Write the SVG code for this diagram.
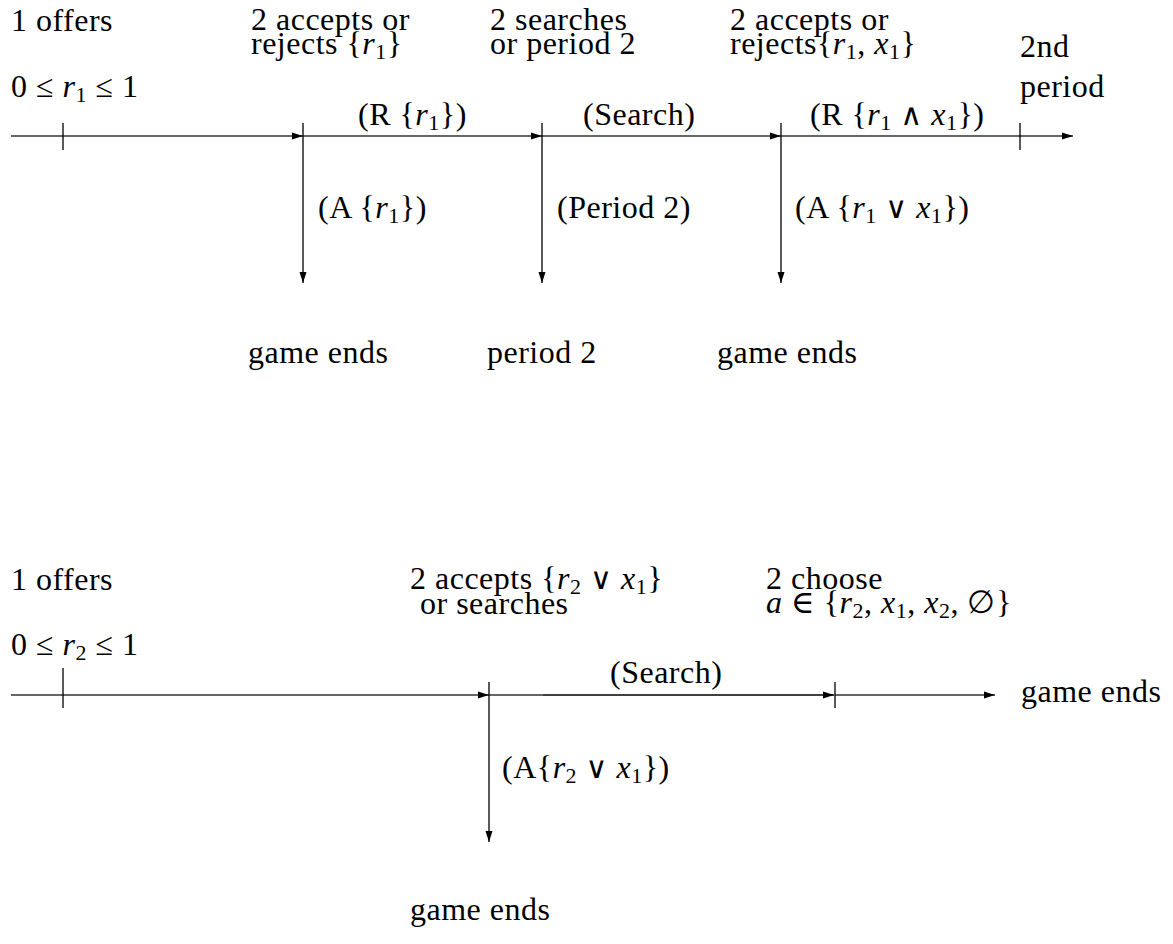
<svg xmlns="http://www.w3.org/2000/svg" width="1173" height="944" viewBox="0 0 1173 944">
<style>
text{font-family:"Liberation Serif","DejaVu Serif",serif;font-size:32px;letter-spacing:0.5px;fill:#000}
.i{font-style:italic}
.s{font-size:22px}
.op{font-family:"DejaVu Serif",serif;font-size:30px}
.ln{stroke:#333;stroke-width:1.3;fill:none}
.tk{stroke:#000;stroke-width:1.3}
</style>
<defs>
<marker id="ah" markerUnits="userSpaceOnUse" markerWidth="12" markerHeight="8" refX="11" refY="4" orient="auto">
<path d="M0,0.5 L11,4 L0,7.5 Z" fill="#000"/>
</marker>
</defs>
<rect width="1173" height="944" fill="#fff"/>
<g id="connectors">
<line class="ln" x1="11" y1="136" x2="303" y2="136" marker-end="url(#ah)"/>
<line class="ln" x1="303" y1="136" x2="542" y2="136" marker-end="url(#ah)"/>
<line class="ln" x1="542" y1="136" x2="781" y2="136" marker-end="url(#ah)"/>
<line class="ln" x1="781" y1="136" x2="1073" y2="136" marker-end="url(#ah)"/>
<line class="tk" x1="63" y1="123" x2="63" y2="150"/>
<line class="tk" x1="1020" y1="123" x2="1020" y2="150"/>
<line class="tk" x1="303" y1="123" x2="303" y2="283" marker-end="url(#ah)"/>
<line class="tk" x1="542" y1="123" x2="542" y2="283" marker-end="url(#ah)"/>
<line class="tk" x1="781" y1="123" x2="781" y2="283" marker-end="url(#ah)"/>
<line class="ln" x1="11" y1="695" x2="489" y2="695" marker-end="url(#ah)"/>
<line class="ln" x1="489" y1="695" x2="543" y2="695"/>
<line class="tk" x1="543" y1="695" x2="834" y2="695" marker-end="url(#ah)"/>
<line class="ln" x1="835" y1="695" x2="995" y2="695" marker-end="url(#ah)"/>
<line class="tk" x1="63" y1="668" x2="63" y2="708"/>
<line class="tk" x1="835" y1="682" x2="835" y2="708"/>
<line class="tk" x1="489" y1="682" x2="489" y2="842" marker-end="url(#ah)"/>
</g>
<g id="n-offers1"><text x="11" y="31">1 offers</text><text x="11" y="97">0 ≤ <tspan class="i">r</tspan><tspan class="s" dy="5">1</tspan><tspan dy="-5"> ≤ 1</tspan></text></g>
<g id="n-accept1"><text x="251" y="30">2 accepts or</text><text x="251" y="54">rejects {<tspan class="i">r</tspan><tspan class="s" dy="5">1</tspan><tspan dy="-5">}</tspan></text></g>
<g id="n-search1"><text x="490" y="30">2 searches</text><text x="490" y="54">or period 2</text></g>
<g id="n-accept2"><text x="730" y="30">2 accepts or</text><text x="730" y="54">rejects{<tspan class="i">r</tspan><tspan class="s" dy="5">1</tspan><tspan dy="-5">, </tspan><tspan class="i">x</tspan><tspan class="s" dy="5">1</tspan><tspan dy="-5">}</tspan></text></g>
<g id="n-2nd"><text x="1020" y="57">2nd</text><text x="1020" y="97">period</text></g>
<g id="l-R1"><text x="358" y="125">(R {<tspan class="i">r</tspan><tspan class="s" dy="5">1</tspan><tspan dy="-5">})</tspan></text></g>
<g id="l-search1"><text x="583" y="125">(Search)</text></g>
<g id="l-R2"><text x="810" y="125">(R {<tspan class="i">r</tspan><tspan class="s" dy="5">1</tspan><tspan dy="-5"> </tspan><tspan class="op">∧</tspan> <tspan class="i">x</tspan><tspan class="s" dy="5">1</tspan><tspan dy="-5">})</tspan></text></g>
<g id="l-A1"><text x="318" y="218">(A {<tspan class="i">r</tspan><tspan class="s" dy="5">1</tspan><tspan dy="-5">})</tspan></text></g>
<g id="l-period2"><text x="557" y="218">(Period 2)</text></g>
<g id="l-A2"><text x="795" y="218">(A {<tspan class="i">r</tspan><tspan class="s" dy="5">1</tspan><tspan dy="-5"> </tspan><tspan class="op">∨</tspan> <tspan class="i">x</tspan><tspan class="s" dy="5">1</tspan><tspan dy="-5">})</tspan></text></g>
<g id="n-end1"><text x="248" y="363">game ends</text></g>
<g id="n-p2"><text x="487" y="363">period 2</text></g>
<g id="n-end2"><text x="717" y="363">game ends</text></g>
<g id="n-offers2"><text x="11" y="590">1 offers</text><text x="11" y="655">0 ≤ <tspan class="i">r</tspan><tspan class="s" dy="5">2</tspan><tspan dy="-5"> ≤ 1</tspan></text></g>
<g id="n-accept3"><text x="410" y="589">2 accepts {<tspan class="i">r</tspan><tspan class="s" dy="5">2</tspan><tspan dy="-5"> </tspan><tspan class="op">∨</tspan> <tspan class="i">x</tspan><tspan class="s" dy="5">1</tspan><tspan dy="-5">}</tspan></text><text x="420" y="614">or searches</text></g>
<g id="n-choose"><text x="766" y="589">2 choose</text><text x="766" y="613"><tspan class="i">a</tspan> ∈ {<tspan class="i">r</tspan><tspan class="s" dy="5">2</tspan><tspan dy="-5">, </tspan><tspan class="i">x</tspan><tspan class="s" dy="5">1</tspan><tspan dy="-5">, </tspan><tspan class="i">x</tspan><tspan class="s" dy="5">2</tspan><tspan dy="-5">, ∅}</tspan></text></g>
<g id="l-search2"><text x="610" y="683">(Search)</text></g>
<g id="n-end3"><text x="1021" y="702">game ends</text></g>
<g id="l-A3"><text x="502" y="778">(A{<tspan class="i">r</tspan><tspan class="s" dy="5">2</tspan><tspan dy="-5"> </tspan><tspan class="op">∨</tspan> <tspan class="i">x</tspan><tspan class="s" dy="5">1</tspan><tspan dy="-5">})</tspan></text></g>
<g id="n-end4"><text x="410" y="920">game ends</text></g>
</svg>
